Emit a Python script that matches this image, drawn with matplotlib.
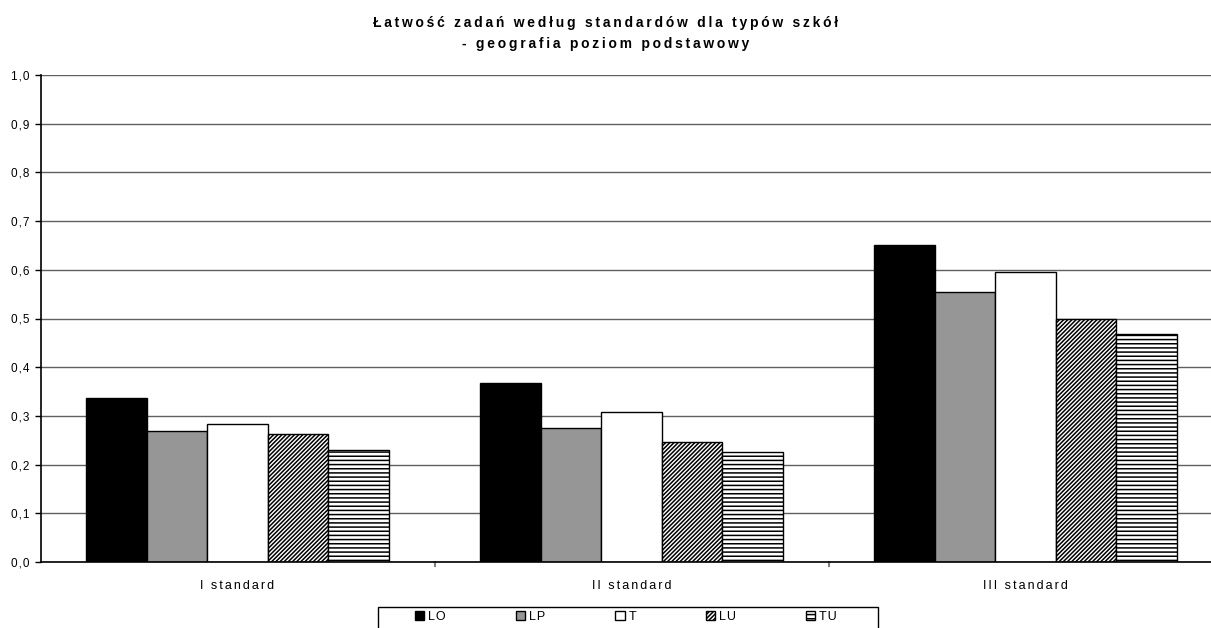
import matplotlib
matplotlib.use("Agg")
import matplotlib.pyplot as plt
import numpy as np
from matplotlib.patches import Patch, Rectangle

plt.rcParams["font.family"] = ["Liberation Sans", "DejaVu Sans"]
plt.rcParams["hatch.linewidth"] = 1.1

categories = ["I standard", "II standard", "III standard"]
series = ["LO", "LP", "T", "LU", "TU"]
values = {
    "LO": [0.336, 0.367, 0.651],
    "LP": [0.268, 0.275, 0.555],
    "T":  [0.284, 0.307, 0.596],
    "LU": [0.262, 0.246, 0.500],
    "TU": [0.230, 0.226, 0.469],
}
yticks = [0.0, 0.1, 0.2, 0.3, 0.4, 0.5, 0.6, 0.7, 0.8, 0.9, 1.0]
title_lines = ["Łatwość zadań według standardów dla typów szkół",
               "- geografia poziom podstawowy"]

styles = {
    "LO": dict(facecolor="black", hatch=None),
    "LP": dict(facecolor="#969696", hatch=None),
    "T":  dict(facecolor="white", hatch=None),
    "LU": dict(facecolor="white", hatch="////////"),
    "TU": dict(facecolor="white", hatch="----"),
}


def spaced(s, gap="\u200a"):
    # the reference uses wide letter spacing; fake it with hair spaces
    return gap.join(s)


W, H = 1211, 628
fig = plt.figure(figsize=(W / 100, H / 100), dpi=100)
ax = fig.add_axes([40.5 / W, (H - 562) / H, 1182 / W, 487 / H])

n = len(series)
bar_w = 1 / (n + 1.5)
x = np.arange(len(categories))
for i, s in enumerate(series):
    offs = (i - (n - 1) / 2) * bar_w
    ax.bar(x + offs, values[s], width=bar_w, edgecolor="black", linewidth=1.0,
           zorder=3, label=s, **styles[s])

ax.set_xlim(-0.5, len(categories) - 0.5)
ax.set_ylim(0, 1.0)
ax.set_yticks(yticks)
ax.set_yticklabels([spaced(f"{v:.1f}".replace(".", ",")) for v in yticks], fontsize=8.5)
ax.yaxis.grid(True, color="#606060", linewidth=1.0, zorder=0)
ax.tick_params(axis="y", direction="out", length=4, width=1, color="black", pad=4)

# category labels between boundary ticks
ax.set_xticks(x)
ax.set_xticklabels([spaced(c, "\u200a\u200a") for c in categories], fontsize=9)
ax.tick_params(axis="x", length=0, pad=13)
for b in np.arange(0.5, len(categories) - 0.5, 1.0):
    ax.plot([b, b], [0, -0.009], color="#808080", lw=1.5, clip_on=False, zorder=4)

for side in ["top", "right"]:
    ax.spines[side].set_visible(False)
ax.spines["left"].set_linewidth(1.2)
ax.spines["bottom"].set_linewidth(1.2)
ax.spines["left"].set_zorder(5)
ax.spines["bottom"].set_zorder(5)

fig.text(0.5, 1 - 33.5 / H, "\n".join(spaced(t, "\u2009") for t in title_lines),
         ha="center", va="center", fontsize=10, fontweight="bold", linespacing=1.6)

handles = [Patch(edgecolor="black", linewidth=1.0, label=spaced(s), **styles[s])
           for s in series]
fig.legend(handles=handles, loc="center", bbox_to_anchor=(626 / W, 1 - 617 / H),
           ncol=5, frameon=False, fontsize=9, handlelength=0.75, handleheight=0.75,
           handletextpad=0.3, columnspacing=5.6)
fig.patches.append(Rectangle((378 / W, -0.02), 500 / W, 0.02 + (H - 607) / H,
                             transform=fig.transFigure, fill=False,
                             edgecolor="black", linewidth=1.0))

fig.savefig("out.png", dpi=100)
